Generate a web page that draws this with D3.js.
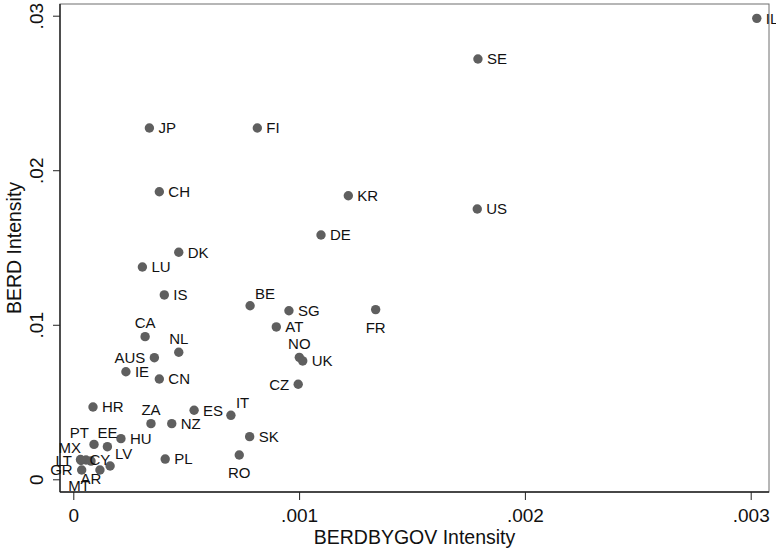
<!DOCTYPE html>
<html>
<head>
<meta charset="utf-8">
<script src="https://cdn.jsdelivr.net/npm/d3@7"></script>
<style>
  body { margin: 0; background: #fff; }
  text { font-family: "Liberation Sans", Arial, sans-serif; }
</style>
</head>
<body>
<div id="chart"></div>
<script>
// country codes with BERDBYGOV intensity (x) and BERD intensity (y)
const countries = ["IL","SE","JP","FI","CH","KR","US","DE","DK","LU","IS","BE","SG","FR","AT","CA","NL","AUS","NO","UK","IE","CN","CZ","IT","ES","HR","ZA","NZ","SK","HU","PT","EE","RO","PL","LV","MX","LT","CY","AR","GR","MT"];
const berdbygov = [0.003027,0.001792,0.000337,0.000815,0.000381,0.001218,0.001789,0.001097,0.000467,0.000306,0.000403,0.000783,0.000955,0.001339,0.000899,0.000318,0.000467,0.000359,0.001001,0.001016,0.000233,0.000381,0.000996,0.000698,0.000535,0.0000872,0.000344,0.000436,0.000781,0.000211,0.0000917,0.000151,0.000735,0.000407,0.000163,0.0000562,0.0000341,0.0000319,0.0000784,0.0000372,0.000118];
const berd      = [0.02983,0.0272,0.02273,0.02273,0.01861,0.01835,0.01749,0.01581,0.01469,0.01374,0.01193,0.01123,0.01091,0.01098,0.00986,0.00923,0.00822,0.00787,0.00789,0.00766,0.00696,0.00649,0.00615,0.00414,0.00447,0.00468,0.0036,0.0036,0.00276,0.00263,0.00226,0.00211,0.00157,0.00131,0.00086,0.00125,0.00122,0.00128,0.00118,0.0006,0.0006];
// marker label clock position (Stata mlabvpos)
const labelPos  = [3,3,3,3,3,3,3,3,3,3,3,1,3,6,3,12,12,9,12,3,3,3,9,1,3,3,12,3,3,3,11,12,6,3,1,11,9,3,6,9,7];
const xTicks = [0, 0.001, 0.002, 0.003];
const yTicks = [0, 0.01, 0.02, 0.03];
const fmt = v => v === 0 ? "0" : d3.format(".3f")(v).replace(/^0/, "").replace(/0+$/, "");

const W = 776, H = 551;
const plot = {left: 60, right: 769, top: 4, bottom: 492};

const svg = d3.select("#chart").append("svg")
    .attr("width", W)
    .attr("height", H);

const x = d3.scaleLinear().domain([0, 0.003]).range([73.3, 750.7]);
const y = d3.scaleLinear().domain([0, 0.03]).range([479.3, 15.7]);

// plot region frame
svg.append("rect")
    .attr("x", plot.left).attr("y", plot.top)
    .attr("width", plot.right - plot.left).attr("height", plot.bottom - plot.top)
    .attr("fill", "none").attr("stroke", "#6e6e6e").attr("stroke-width", 1);

const xAxis = svg.append("g")
    .attr("transform", "translate(0," + plot.bottom + ")")
    .call(d3.axisBottom(x).tickValues(xTicks).tickFormat(fmt).tickSize(8).tickPadding(9));
const yAxis = svg.append("g")
    .attr("transform", "translate(" + plot.left + ",0)")
    .call(d3.axisLeft(y).tickValues(yTicks).tickFormat(fmt).tickSize(7).tickPadding(10));

[xAxis, yAxis].forEach(g => {
  g.select(".domain").remove();
  g.selectAll(".tick line").attr("stroke", "#222");
  g.selectAll("text").attr("font-size", 19).attr("fill", "#111")
    .attr("font-family", "Liberation Sans, Arial, sans-serif");
});
yAxis.selectAll(".tick text")
    .attr("text-anchor", "middle")
    .attr("x", null).attr("dy", null)
    .attr("transform", "translate(-17,0) rotate(-90)");

svg.append("line").attr("x1", plot.left).attr("x2", plot.right)
    .attr("y1", plot.bottom).attr("y2", plot.bottom)
    .attr("stroke", "#222").attr("stroke-width", 1.4);
svg.append("line").attr("x1", plot.left).attr("x2", plot.left)
    .attr("y1", plot.top).attr("y2", plot.bottom)
    .attr("stroke", "#222").attr("stroke-width", 1.4);

// axis titles
svg.append("text")
    .attr("x", (plot.left + plot.right) / 2).attr("y", 544)
    .attr("text-anchor", "middle").attr("font-size", 19.5).attr("fill", "#111")
    .text("BERDBYGOV Intensity");
svg.append("text")
    .attr("transform", "translate(21," + ((plot.top + plot.bottom) / 2) + ") rotate(-90)")
    .attr("text-anchor", "middle").attr("font-size", 19.5).attr("fill", "#111")
    .text("BERD Intensity");

const data = countries.map((c, i) => ({c, x: berdbygov[i], y: berd[i], pos: labelPos[i]}));

const off = {
  3:  {dx: 9,   dy: 0,     a: "start"},
  9:  {dx: -9,  dy: 0,     a: "end"},
  12: {dx: 0,   dy: -13.7, a: "middle"},
  6:  {dx: 0,   dy: 17.7,  a: "middle"},
  1:  {dx: 5,   dy: -12.5, a: "start"},
  11: {dx: -5,  dy: -12,   a: "end"},
  7:  {dx: -10, dy: 16,    a: "end"}
};

svg.append("clipPath").attr("id", "pc").append("rect")
    .attr("x", plot.left).attr("y", plot.top)
    .attr("width", plot.right - plot.left).attr("height", plot.bottom - plot.top);

const pts = svg.append("g").attr("clip-path", "url(#pc)");

pts.selectAll("circle").data(data).join("circle")
    .attr("cx", d => x(d.x)).attr("cy", d => y(d.y))
    .attr("r", 4.7).attr("fill", "#5f5f5f");

svg.append("g")
  .selectAll("text").data(data).join("text")
    .attr("x", d => x(d.x) + off[d.pos].dx)
    .attr("y", d => y(d.y) + off[d.pos].dy)
    .attr("dy", "0.36em")
    .attr("text-anchor", d => off[d.pos].a)
    .attr("font-size", 15).attr("fill", "#111")
    .text(d => d.c);
</script>
</body>
</html>
